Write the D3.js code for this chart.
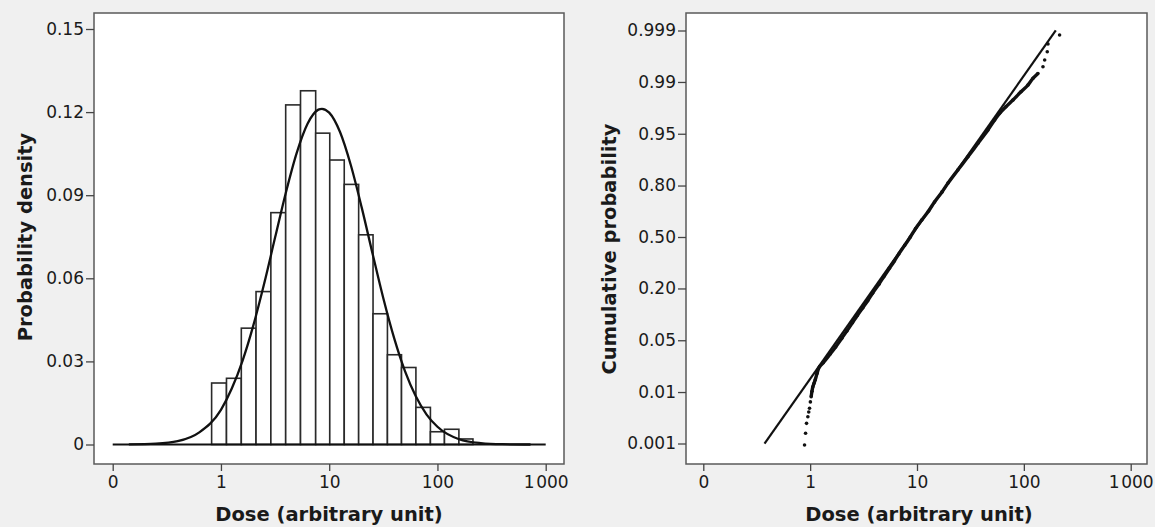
<!DOCTYPE html>
<html><head><meta charset="utf-8">
<script src="https://cdn.jsdelivr.net/npm/d3@7"></script>
<style>
html,body{margin:0;padding:0;background:#f0f0f0;}
svg{display:block;}
text{font-family:"DejaVu Sans",sans-serif;fill:#1a1a1a;}
</style></head><body>
<svg id="chart" width="1155" height="527"></svg>
<script>
// ---------- Left panel: histogram of dose (log bins) ----------
const binEdges = [0.82,1.125,1.542,2.109,2.891,3.963,5.433,7.5,10.12,13.77,18.71,25.41,34.51,46.56,63.24,86.1,116.1,157.8,212.8];
const binDensity = [0.0222,0.0239,0.042,0.0552,0.0837,0.1226,0.1277,0.1124,0.1027,0.0939,0.0757,0.0472,0.0324,0.0278,0.0134,0.0046,0.0055,0.0020];
// fitted lognormal density curve
const curveDose = [0.141,0.251,0.398,0.631,1,1.259,1.585,1.995,2.512,3.162,3.981,5.012,6.31,7.943,8.57,10,12.59,15.85,19.95,25.12,31.62,39.81,50.12,63.1,79.43,100,158.5,251.2,398.1,724];
const curveDensity = [0.00003,0.0003,0.0012,0.0044,0.0125,0.0202,0.0303,0.0431,0.0582,0.0747,0.091,0.1053,0.1158,0.1209,0.1212,0.1198,0.1128,0.1008,0.0856,0.069,0.0528,0.0384,0.0265,0.0174,0.0108,0.0064,0.0019,0.0005,0.0001,0];
const xTickValues = [0.1,1,10,100,1000];
const xTickLabels = ["0","1","10","100","1\u200a000"];
const yTickValuesL = [0,0.03,0.06,0.09,0.12,0.15];
const yTickLabelsL = ["0","0.03","0.06","0.09","0.12","0.15"];

// ---------- Right panel: cumulative probability plot ----------
const cdfDose = [0.886,0.906,0.925,0.952,0.97,0.987,1.005,1.022,1.04,1.06,1.085,1.114,1.16,1.224,1.326,1.541,1.732,1.978,2.209,2.491,2.762,3.111,3.456,3.836,4.40,4.94,5.52,6.14,6.76,7.66,8.66,9.69,11.08,12.79,14.58,17.15,19.5,24.1,29.97,37.2,46.1,53.3,59.3,67.9,79.1,94.0,109.2,121.7,135.5,151,156.6,165.6,168.2,216];
const cdfProb = [0.00093,0.00166,0.00265,0.00358,0.0044,0.0052,0.0068,0.0084,0.0105,0.0125,0.0142,0.0162,0.0205,0.0261,0.03,0.04,0.05,0.065,0.08,0.1,0.12,0.145,0.17,0.2,0.24,0.28,0.32,0.36,0.40,0.45,0.5,0.55,0.6,0.65,0.7,0.75,0.79,0.842,0.885,0.9195,0.9453,0.96,0.9679,0.9744,0.9798,0.9851,0.9885,0.9912,0.9928,0.99458,0.99596,0.99722,0.99806,0.99875];
const fitDose = [0.374,199];
const fitProb = [0.001,0.999];
const yTickLabelsR = ["0.001","0.01","0.05","0.20","0.50","0.80","0.95","0.99","0.999"];
const yTickZR = [-3.09,-2.32,-1.545,-0.77,0,0.77,1.545,2.32,3.09]; // tick positions on probit axis

function probit(p){
  const a=[-3.969683028665376e+01,2.209460984245205e+02,-2.759285104469687e+02,1.383577518672690e+02,-3.066479806614716e+01,2.506628277459239e+00];
  const b=[-5.447609879822406e+01,1.615858368580409e+02,-1.556989798598866e+02,6.680131188771972e+01,-1.328068155288572e+01];
  const c=[-7.784894002430293e-03,-3.223964580411365e-01,-2.400758277161838e+00,-2.549732539343734e+00,4.374664141464968e+00,2.938163982698783e+00];
  const d=[7.784695709041462e-03,3.224671290700398e-01,2.445134137142996e+00,3.754408661907416e+00];
  const pl=0.02425, ph=1-pl; let q,r;
  if(p<pl){q=Math.sqrt(-2*Math.log(p));return (((((c[0]*q+c[1])*q+c[2])*q+c[3])*q+c[4])*q+c[5])/((((d[0]*q+d[1])*q+d[2])*q+d[3])*q+1);}
  if(p<=ph){q=p-0.5;r=q*q;return (((((a[0]*r+a[1])*r+a[2])*r+a[3])*r+a[4])*r+a[5])*q/(((((b[0]*r+b[1])*r+b[2])*r+b[3])*r+b[4])*r+1);}
  q=Math.sqrt(-2*Math.log(1-p));return -(((((c[0]*q+c[1])*q+c[2])*q+c[3])*q+c[4])*q+c[5])/((((d[0]*q+d[1])*q+d[2])*q+d[3])*q+1);
}

const svg = d3.select("#chart");
const L = {left:94,right:564,top:13,bottom:464};
const R = {left:686,right:1147,top:13,bottom:464};

const xL = d3.scaleLog().domain([0.1,1000]).range([112.7,545.7]);
const yL = d3.scaleLinear().domain([0,0.15]).range([444.5,29]);
const xR = d3.scaleLog().domain([0.1,1000]).range([703.3,1130.7]);
const yZ = d3.scaleLinear().domain([-3.09,3.09]).range([443.5,30.5]);
const yR = p => yZ(probit(p));

function frame(P){
  svg.append("rect").attr("x",P.left).attr("y",P.top)
    .attr("width",P.right-P.left).attr("height",P.bottom-P.top)
    .attr("fill","#fff").attr("stroke","#5a5a5a").attr("stroke-width",1.5);
}
frame(L); frame(R);

function styleAxis(g){
  g.select(".domain").remove();
  g.selectAll(".tick line").attr("stroke","#444").attr("stroke-width",1.3);
  g.selectAll(".tick text").style("font-size","17px").attr("fill","#1a1a1a");
}

// left axes
svg.append("g").attr("transform",`translate(${L.left},0)`)
  .call(d3.axisLeft(yL).tickValues(yTickValuesL).tickFormat((d,i)=>yTickLabelsL[i]).tickSize(8).tickPadding(2))
  .call(styleAxis);
svg.append("g").attr("transform",`translate(0,${L.bottom})`)
  .call(d3.axisBottom(xL).tickValues(xTickValues).tickFormat((d,i)=>xTickLabels[i]).tickSize(7).tickPadding(5))
  .call(styleAxis);
// right axes
svg.append("g").attr("transform",`translate(${R.left},0)`)
  .call(d3.axisLeft(yZ).tickValues(yTickZR).tickFormat((d,i)=>yTickLabelsR[i]).tickSize(8).tickPadding(2))
  .call(styleAxis);
svg.append("g").attr("transform",`translate(0,${R.bottom})`)
  .call(d3.axisBottom(xR).tickValues(xTickValues).tickFormat((d,i)=>xTickLabels[i]).tickSize(7).tickPadding(5))
  .call(styleAxis);

// histogram bars
const bins = binDensity.map((v,i)=>({x0:binEdges[i],x1:binEdges[i+1],v}));
svg.append("g").selectAll("rect").data(bins).join("rect")
  .attr("x",d=>xL(d.x0)).attr("width",d=>xL(d.x1)-xL(d.x0))
  .attr("y",d=>yL(d.v)).attr("height",d=>yL(0)-yL(d.v))
  .attr("fill","#fff").attr("stroke","#2a2a2a").attr("stroke-width",1.6);
// baseline
svg.append("line").attr("x1",xL(0.1)).attr("x2",xL(1000)).attr("y1",yL(0)).attr("y2",yL(0))
  .attr("stroke","#111").attr("stroke-width",2);
// density curve
const curvePts = curveDose.map((d,i)=>[d,curveDensity[i]]);
svg.append("path").datum(curvePts)
  .attr("d",d3.line().x(d=>xL(d[0])).y(d=>yL(d[1])).curve(d3.curveMonotoneX))
  .attr("fill","none").attr("stroke","#111").attr("stroke-width",2.3);

// right: fitted line
svg.append("line").attr("x1",xR(fitDose[0])).attr("y1",yR(fitProb[0]))
  .attr("x2",xR(fitDose[1])).attr("y2",yR(fitProb[1]))
  .attr("stroke","#111").attr("stroke-width",2.2);
// right: empirical points
const cdfPts = cdfDose.map((d,i)=>[d,cdfProb[i]]);
svg.append("path").datum(cdfPts.filter(d=>d[1]>=0.0084 && d[1]<=0.9928))
  .attr("d",d3.line().x(d=>xR(d[0])).y(d=>yR(d[1])).curve(d3.curveMonotoneY))
  .attr("fill","none").attr("stroke","#111").attr("stroke-width",3.4).attr("stroke-linejoin","round");
svg.append("g").selectAll("circle").data(cdfPts).join("circle")
  .attr("cx",d=>xR(d[0])).attr("cy",d=>yR(d[1])).attr("r",1.8).attr("fill","#111");

// titles
svg.append("text").attr("x",(L.left+L.right)/2).attr("y",521).attr("text-anchor","middle")
  .style("font-size","19.5px").style("font-weight","bold").text("Dose (arbitrary unit)");
svg.append("text").attr("x",919).attr("y",521).attr("text-anchor","middle")
  .style("font-size","19.5px").style("font-weight","bold").text("Dose (arbitrary unit)");
svg.append("text").attr("transform","translate(32,237) rotate(-90)").attr("text-anchor","middle")
  .style("font-size","19.5px").style("font-weight","bold").text("Probability density");
svg.append("text").attr("transform","translate(616,249) rotate(-90)").attr("text-anchor","middle")
  .style("font-size","19.5px").style("font-weight","bold").text("Cumulative probability");
</script>
</body></html>
